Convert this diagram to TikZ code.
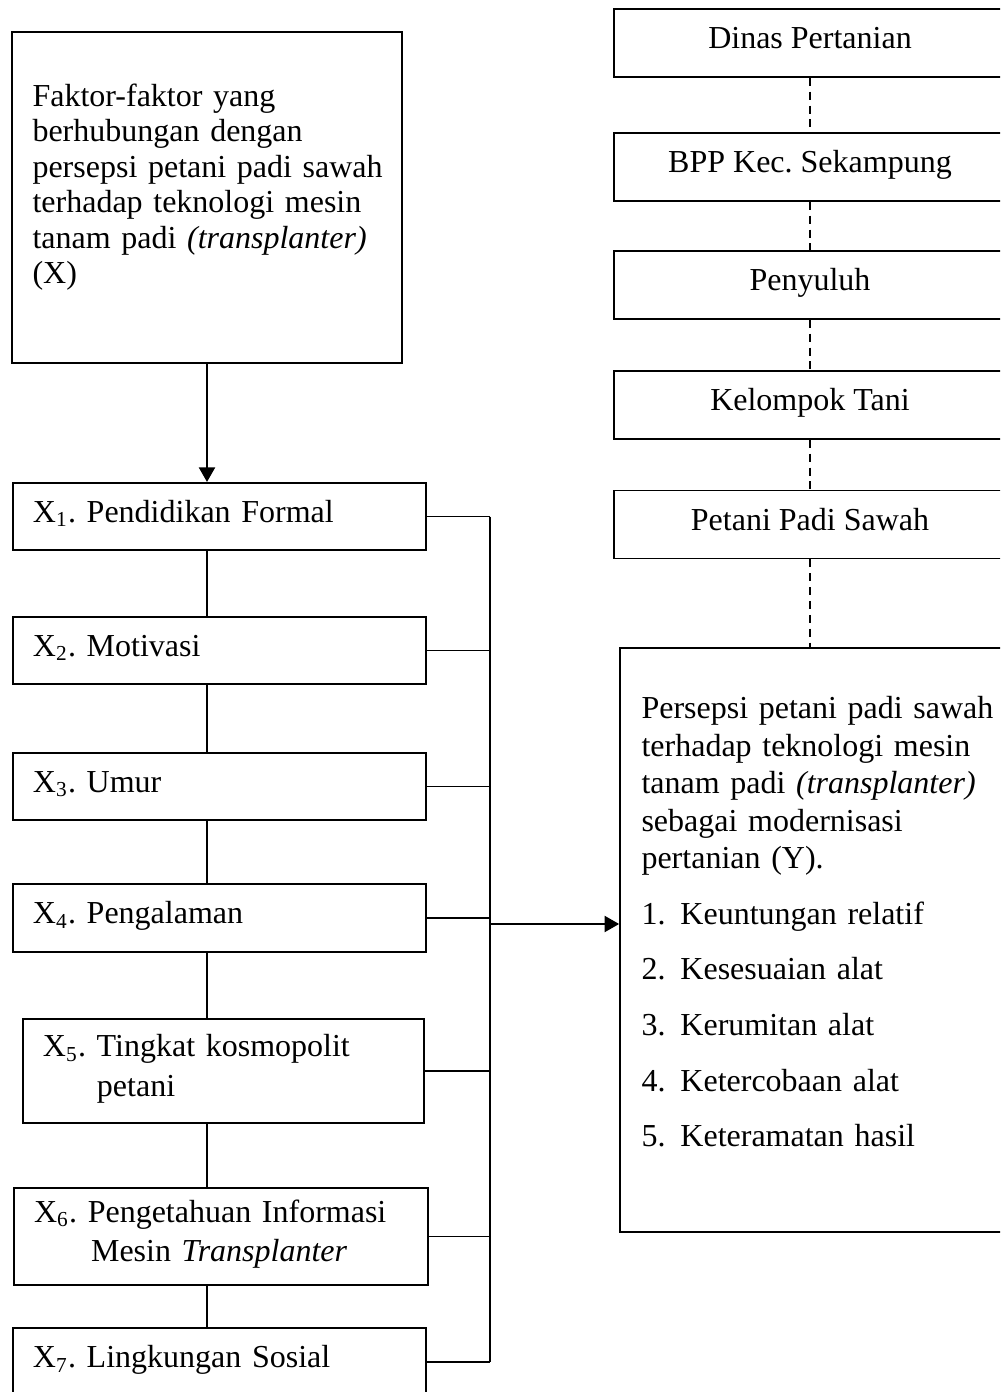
\documentclass[tikz,border=0pt]{standalone}
\usepackage{fontspec}
\setmainfont{Liberation Serif}
\usetikzlibrary{arrows.meta}
\newcommand{\boxstrut}{\rule[-4.875pt]{0pt}{13.875pt}}
\frenchspacing

\begin{document}
\begin{tikzpicture}[x=0.375pt, y=-0.375pt,
	font=\fontsize{12pt}{13.3pt}\selectfont,
	xbox/.style={draw, line width=0.6pt, align=left, inner xsep=7.5pt, inner ysep=0pt, text width=#1, minimum height=25.3pt, execute at begin node=\boxstrut, execute at end node=\boxstrut},
	rbox/.style={draw, line width=0.6pt, align=center, minimum width=147pt, minimum height=25.5pt, inner sep=0pt, execute at begin node=\boxstrut},
	bigbox/.style={draw, line width=0.6pt},
	boxtext/.style={anchor=north west, align=left, inner sep=0pt, text width=#1, execute at begin node=\boxstrut},
	link/.style={line width=0.4pt},
	dashlink/.style={line width=0.55pt, dash pattern=on 3pt off 2.2pt},
	arrowlink/.style={line width=0.9pt, -{Triangle[length=5.5pt,width=6pt]}},
	]
	\useasboundingbox (0,0) rectangle (1000,1392);
	\clip (0,0) rectangle (1000,1392);
	%Nodes
	\node[bigbox, minimum width=146.25pt, minimum height=124.1pt] (faktor) at (207,197.5) {};
	\node[boxtext=135pt] (faktortext) at (32,82) {Faktor-faktor yang\\berhubungan dengan\\persepsi petani padi sawah\\terhadap teknologi mesin\\tanam padi \textit{(transplanter)}\\(X)};
	\node[xbox=139.9pt]   (x1) at (219.5,516.5) {X\textsubscript{1}. Pendidikan Formal};
	\node[xbox=139.9pt]   (x2) at (219.5,650.5) {X\textsubscript{2}. Motivasi};
	\node[xbox=139.9pt]   (x3) at (219.5,786.5) {X\textsubscript{3}. Umur};
	\node[xbox=139.9pt]   (x4) at (219.5,918)   {X\textsubscript{4}. Pengalaman};
	\node[xbox=135.4pt, minimum height=39pt]   (x5) at (223.5,1071) {X\textsubscript{5}. Tingkat kosmopolit\\\hspace*{20.25pt}petani};
	\node[xbox=140.25pt, minimum height=36.4pt] (x6) at (221,1236.5) {X\textsubscript{6}. Pengetahuan Informasi\\\hspace*{21.4pt}Mesin \textit{Transplanter}};
	\node[xbox=139.9pt]   (x7) at (219.5,1362)  {X\textsubscript{7}. Lingkungan Sosial};
	\node[rbox] (dinas)    at (810,43)    {Dinas Pertanian};
	\node[rbox] (bpp)      at (810,167)   {BPP Kec. Sekampung};
	\node[rbox] (penyuluh) at (810,285)   {Penyuluh};
	\node[rbox] (kelompok) at (810,405)   {Kelompok Tani};
	\node[rbox] (petani)   at (810,524.5) {Petani Padi Sawah};
	\node[bigbox, minimum width=144.4pt, minimum height=219pt] (persepsi) at (812.5,940) {};
	\node[boxtext=135pt, font=\fontsize{12pt}{14.06pt}\selectfont] (persepsitext) at (641,694) {Persepsi petani padi sawah\\terhadap teknologi mesin\\tanam padi \textit{(transplanter)}\\sebagai modernisasi\\pertanian (Y).\\[6.8pt]
		\makebox[14.6pt][l]{1.}Keuntungan relatif\\[6.8pt]
		\makebox[14.6pt][l]{2.}Kesesuaian alat\\[6.8pt]
		\makebox[14.6pt][l]{3.}Kerumitan alat\\[6.8pt]
		\makebox[14.6pt][l]{4.}Ketercobaan alat\\[6.8pt]
		\makebox[14.6pt][l]{5.}Keteramatan hasil};
	\coordinate (bus) at (490,0);
	\coordinate (arrowstart) at (490,924);

	\draw[arrowlink] (faktor.south) -- (faktor.south |- x1.north);
	\foreach \a/\b in {x1/x2,x2/x3,x3/x4,x4/x5,x5/x6,x6/x7}
		\draw[link] (\a.south -| faktor.south) -- (\b.north -| faktor.south);
	\foreach \n in {x1,x2,x3,x4,x5,x6,x7}
		\draw[link] (\n.east) -- (\n.east -| bus);
	\draw[link] (x1.east -| bus) -- (x7.east -| bus);
	\draw[arrowlink] (arrowstart) -- (arrowstart -| persepsi.west);
	\foreach \a/\b in {dinas/bpp,bpp/penyuluh,penyuluh/kelompok,kelompok/petani}
		\draw[dashlink] (\a.south) -- (\b.north);
	\draw[dashlink] (petani.south) -- (petani.south |- persepsi.north);
\end{tikzpicture}
\end{document}
